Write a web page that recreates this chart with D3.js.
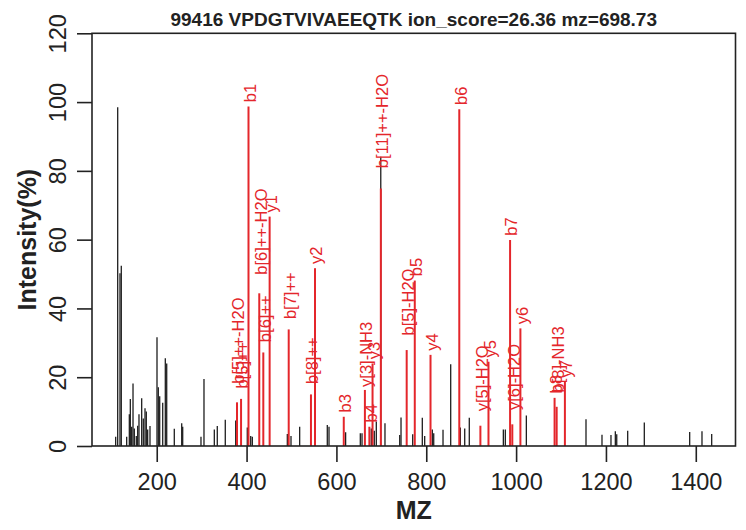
<!DOCTYPE html>
<html>
<head>
<meta charset="utf-8">
<script src="https://cdn.jsdelivr.net/npm/d3@7"></script>
<style>
  html, body { margin: 0; padding: 0; background: #ffffff; }
  svg { display: block; font-family: "Liberation Sans", Arial, Helvetica, sans-serif; }
</style>
</head>
<body>
<svg id="chart" width="746" height="530"></svg>
<script>
// ---------------- data ----------------
const titleText = "99416 VPDGTVIVAEEQTK ion_score=26.36 mz=698.73";
const xTitle = "MZ";
const yTitle = "Intensity(%)";
const xTicks = [200, 400, 600, 800, 1000, 1200, 1400];
const yTicks = [0, 20, 40, 60, 80, 100, 120];

// unmatched (black) peaks
const peakMz = [108.6, 113.1, 118.2, 121.1, 133.1, 139.0, 141.2, 144.2, 147.2, 150.1,
  154.5, 157.6, 160.5, 166.5, 170.1, 173.9, 176.8, 179.8, 185.0, 200.6,
  203.5, 206.6, 213.3, 219.1, 222.2, 239.1, 255.6, 257.8, 298.5, 305.2,
  328.2, 334.8, 352.6, 375.8, 401.6, 409.2, 412.8, 490.7, 498.9, 518.2,
  579.7, 583.5, 620.5, 653.2, 657.0, 677.6, 684.3, 688.8, 698.73, 708.1,
  740.9, 743.8, 769.8, 791.2, 796.5, 813.5, 816.6, 837.3, 854.4, 875.8,
  885.6, 895.8, 971.6, 976.0, 1022.8, 1155.6, 1191.2, 1211.2, 1220.9, 1224.0,
  1248.4, 1285.4, 1386.4, 1413.8, 1435.4];
const peakInt = [2.7, 98.5, 50.2, 52.4, 2.7, 9.2, 13.7, 5.6, 18.2, 5.1,
  2.9, 5.9, 9.2, 13.9, 8.0, 11.0, 10.0, 4.8, 5.8, 31.6,
  17.1, 14.5, 12.6, 25.5, 24.0, 5.0, 6.6, 5.6, 2.7, 19.5,
  4.8, 5.8, 7.6, 7.4, 5.4, 2.9, 2.7, 3.5, 2.9, 5.6,
  6.1, 5.6, 4.0, 3.7, 3.7, 5.1, 4.4, 7.1, 84.1, 6.6,
  3.2, 8.3, 3.4, 8.2, 2.9, 4.8, 3.7, 4.7, 23.8, 5.4,
  5.1, 8.2, 4.8, 4.8, 8.9, 7.8, 3.3, 3.2, 4.3, 3.4,
  4.4, 6.8, 4.1, 4.3, 3.5];

// matched fragment ions (red)
const ionLabel = ["b[5]++-H2O", "b[5]++", "b1", "b[6]++-H2O", "b[6]++", "y1", "b[7]++", "b[8]++", "y2", "b3",
  "y[3]-NH3", "b4", "y3", "b[11]++-H2O", "b[5]-H2O", "b5", "y4", "b6", "y[5]-H2O", "y5",
  "b7", "y[6]-H2O", "y6", "b8", "b[8]-NH3", "y7"];
const ionMz = [378.71, 387.72, 404.28, 428.25, 437.25, 451.32, 493.80, 543.33, 552.37, 616.36,
  663.40, 673.38, 680.42, 698.89, 756.42, 774.43, 809.47, 873.50, 920.50, 938.51,
  986.58, 991.54, 1009.55, 1085.65, 1090.3, 1108.62];
const ionInt = [12.7, 13.7, 98.7, 44.4, 27.2, 66.7, 33.9, 15.0, 51.7, 8.5,
  16.3, 5.6, 24.0, 74.9, 27.9, 48.1, 26.5, 97.9, 5.9, 24.5,
  59.9, 6.3, 34.2, 14.0, 11.4, 18.7];

// ---------------- drawing ----------------
const svg = d3.select("#chart");
const red = "#e4262b";
const ink = "#1e1e1e";

const x = d3.scaleLinear().domain([55.9, 1488.4]).range([92, 735.5]);
const y = d3.scaleLinear().domain([0, 120]).range([446, 33.3]);

// black peaks
svg.append("g").selectAll("line")
  .data(d3.range(peakMz.length))
  .join("line")
  .attr("x1", i => x(peakMz[i])).attr("x2", i => x(peakMz[i]))
  .attr("y1", y(0)).attr("y2", i => y(peakInt[i]))
  .attr("stroke", ink).attr("stroke-width", 1.3);

// red peaks
svg.append("g").selectAll("line")
  .data(d3.range(ionMz.length))
  .join("line")
  .attr("x1", i => x(ionMz[i])).attr("x2", i => x(ionMz[i]))
  .attr("y1", y(0)).attr("y2", i => y(ionInt[i]))
  .attr("stroke", red).attr("stroke-width", 2);

// red labels: lifted above the peak by an amount growing with label length
const gapOverride = { "y[3]-NH3": 3 };
svg.append("g").selectAll("text")
  .data(d3.range(ionMz.length))
  .join("text")
  .attr("dy", "0.35em")
  .attr("text-anchor", "start")
  .attr("fill", red)
  .style("font-size", "16.5px")
  .text(i => ionLabel[i])
  .each(function (i) {
    const L = this.getComputedTextLength();
    const gap = gapOverride[ionLabel[i]] !== undefined ? gapOverride[ionLabel[i]] : 0.5 + 0.21 * L;
    d3.select(this).attr("transform",
      `translate(${x(ionMz[i]) + 1.5},${y(ionInt[i]) - gap}) rotate(-90)`);
  });

// box
svg.append("rect")
  .attr("x", 92).attr("y", 33.3)
  .attr("width", 735.5 - 92).attr("height", 446 - 33.3)
  .attr("fill", "none").attr("stroke", "#222").attr("stroke-width", 1.6);

// x axis
const gx = svg.append("g")
  .attr("transform", `translate(0,${y(0)})`)
  .call(d3.axisBottom(x).tickValues(xTicks).tickSize(16).tickPadding(11).tickFormat(d3.format("d")));
gx.select(".domain").remove();
gx.selectAll(".tick line").attr("stroke", "#222").attr("stroke-width", 1.6);
gx.selectAll(".tick text").attr("fill", "#222").style("font-size", "23.5px")
  .style("font-family", "'Liberation Sans', Arial, sans-serif");

// y axis
const gy = svg.append("g")
  .attr("transform", `translate(${x.range()[0]},0)`)
  .call(d3.axisLeft(y).tickValues(yTicks).tickSize(15).tickFormat(d3.format("d")));
gy.select(".domain").remove();
gy.selectAll(".tick line").attr("stroke", "#222").attr("stroke-width", 1.6);
gy.selectAll(".tick text")
  .attr("x", null).attr("dy", null)
  .attr("transform", "translate(-26,0) rotate(-90)")
  .attr("text-anchor", "middle")
  .attr("fill", "#222").style("font-size", "23.5px")
  .style("font-family", "'Liberation Sans', Arial, sans-serif");

// title
svg.append("text")
  .attr("x", (92 + 735.5) / 2).attr("y", 26)
  .attr("text-anchor", "middle")
  .attr("fill", "#222")
  .style("font-size", "19px").style("font-weight", "bold")
  .text(titleText);

// axis titles
svg.append("text")
  .attr("x", (92 + 735.5) / 2).attr("y", 519)
  .attr("text-anchor", "middle")
  .attr("fill", "#222")
  .style("font-size", "25px").style("font-weight", "bold")
  .text(xTitle);

svg.append("text")
  .attr("transform", `translate(36,${(33.3 + 446) / 2}) rotate(-90)`)
  .attr("text-anchor", "middle")
  .attr("fill", "#222")
  .style("font-size", "25px").style("font-weight", "bold")
  .text(yTitle);
</script>
</body>
</html>
